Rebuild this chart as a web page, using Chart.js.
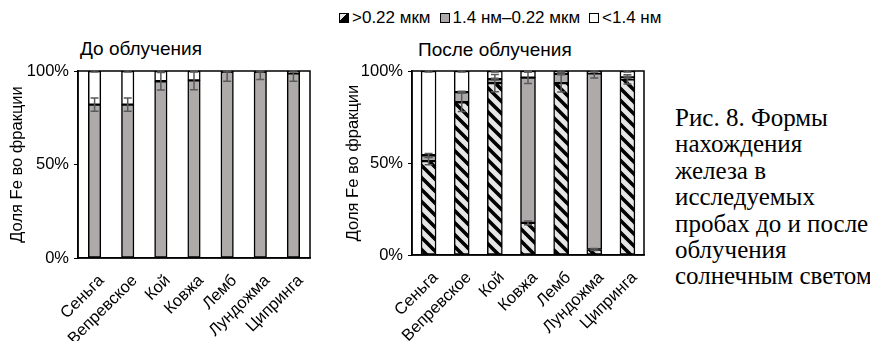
<!DOCTYPE html>
<html>
<head>
<meta charset="utf-8">
<script src="https://cdn.jsdelivr.net/npm/chart.js@4.4.0/dist/chart.umd.min.js"></script>
<style>
  body { margin: 0; width: 870px; height: 341px; background: #fff; position: relative; overflow: hidden;
         font-family: "Liberation Sans", Arial, sans-serif; color: #000; }
  canvas { position: absolute; top: 0; }
  #left { left: 0; }
  #right { left: 340px; }
  .title { position: absolute; font-size: 19px; line-height: 21px; white-space: nowrap; }
  #legend { position: absolute; left: 339px; top: 8px; font-size: 17px; line-height: 19px; white-space: nowrap; display: flex; align-items: center; }
  #legend .sw { display: inline-block; width: 8px; height: 8px; border: 1px solid #000; margin-right: 3px; }
  #legend .item { display: flex; align-items: center; margin-right: 9px; }
  #caption { position: absolute; left: 675px; top: 105px; font-family: "Liberation Serif", "Times New Roman", serif;
             font-size: 25px; line-height: 26.4px; white-space: nowrap; }
</style>
</head>
<body>
<div id="legend">
  <span class="item"><span class="sw" style="background:linear-gradient(135deg,#e7e6e6 0 40%,#000 40% 100%)"></span>&gt;0.22 мкм</span>
  <span class="item"><span class="sw" style="background:#aeaaaa"></span>1.4 нм–0.22 мкм</span>
  <span class="item"><span class="sw" style="background:#fff"></span>&lt;1.4 нм</span>
</div>
<div class="title" style="left:80px;top:38px">До облучения</div>
<div class="title" style="left:418px;top:39px">После облучения</div>
<div id="caption">Рис. 8. Формы<br>нахождения<br>железа в<br>исследуемых<br>пробах до и после<br>облучения<br>солнечным светом</div>
<canvas id="left" width="330" height="341"></canvas>
<canvas id="right" width="320" height="341"></canvas>
<script>
const categories = ['Сеньга', 'Вепревское', 'Кой', 'Ковжа', 'Лемб', 'Лундожма', 'Ципринга'];
const seriesNames = ['>0.22 мкм', '1.4 нм–0.22 мкм', '<1.4 нм'];
const yTicks = [0, 50, 100];

// до облучения, % Fe
const beforeLarge = [0, 0, 0, 0, 0, 0, 0];
const beforeMid = [82, 82, 94.5, 95, 99.5, 99.5, 98.8];
const beforeSmall = [18, 18, 5.5, 5, 0.5, 0.5, 1.2];
const beforeLargeErr = [0, 0, 0, 0, 0, 0, 0];
const beforeMidErr = [3.5, 3.5, 4.7, 5, 5, 4, 4.3];
const beforeSmallErr = [0.5, 0.5, 0.5, 0.5, 0.5, 0.5, 0.5];

// после облучения, % Fe
const afterLarge = [51, 83, 93.4, 17.5, 93.4, 3, 95.5];
const afterMid = [3.2, 5.5, 2.2, 78.9, 5, 95.7, 1];
const afterSmall = [45.8, 11.5, 4.4, 3.6, 1.6, 1.3, 3.5];
const afterLargeErr = [2, 5, 4.7, 1, 4.8, 0.5, 2.5];
const afterMidErr = [1, 0.5, 0.5, 3.2, 0.5, 2.5, 0.5];
const afterSmallErr = [0.5, 0.5, 0.5, 0.5, 0.5, 0.5, 0.5];

const axisFont = { family: '"Liberation Sans", Arial', size: 16.5 };

function hatch() {
  const t = 12;
  const c = document.createElement('canvas');
  c.width = t; c.height = t;
  const g = c.getContext('2d');
  g.fillStyle = '#e7e6e6';
  g.fillRect(0, 0, t, t);
  g.strokeStyle = '#000';
  g.lineWidth = 3.6;
  g.beginPath();
  g.moveTo(-t, -t); g.lineTo(2 * t, 2 * t);
  g.moveTo(-t, 0); g.lineTo(t, 2 * t);
  g.moveTo(0, -t); g.lineTo(2 * t, t);
  g.stroke();
  return g.createPattern(c, 'repeat');
}

const frame = {
  id: 'frame',
  afterDatasetsDraw(chart) {
    const a = chart.chartArea, ctx = chart.ctx;
    ctx.save();
    ctx.strokeStyle = '#000';
    ctx.lineWidth = 1.5;
    ctx.strokeRect(a.left, a.top, a.right - a.left, a.bottom - a.top);
    ctx.restore();
  }
};

const errBars = {
  id: 'errBars',
  afterDraw(chart) {
    const ctx = chart.ctx, a = chart.chartArea, y = chart.scales.y;
    ctx.save();
    ctx.beginPath();
    ctx.rect(a.left, a.top - 1, a.right - a.left, a.bottom - a.top + 1);
    ctx.clip();
    ctx.strokeStyle = '#595959';
    ctx.lineWidth = 1.5;
    const sums = categories.map(() => 0);
    chart.data.datasets.forEach((ds, i) => {
      const meta = chart.getDatasetMeta(i);
      ds.data.forEach((v, j) => {
        sums[j] += v;
        const e = ds.errors[j];
        if (!e) return;
        const x = meta.data[j].x;
        const y1 = y.getPixelForValue(sums[j] + e);
        const y2 = y.getPixelForValue(sums[j] - e);
        ctx.beginPath();
        ctx.moveTo(x, y1); ctx.lineTo(x, y2);
        ctx.moveTo(x - 4, y1); ctx.lineTo(x + 4, y1);
        ctx.moveTo(x - 4, y2); ctx.lineTo(x + 4, y2);
        ctx.stroke();
      });
    });
    ctx.restore();
  }
};

function makeChart(id, values, errors, barW, yWidth, xHeight, padRight, titlePad) {
  const fills = [hatch(), '#aeaaaa', '#ffffff'];
  return new Chart(document.getElementById(id), {
    type: 'bar',
    data: {
      labels: categories,
      datasets: values.map((d, i) => ({
        label: seriesNames[i],
        data: d,
        errors: errors[i],
        backgroundColor: fills[i],
        borderColor: '#000',
        borderWidth: 1.5,
        borderSkipped: false,
        barThickness: barW
      }))
    },
    options: {
      responsive: false,
      animation: false,
      devicePixelRatio: 1,
      layout: { padding: { top: 71, right: padRight, bottom: 0, left: 0 } },
      plugins: { legend: { display: false }, tooltip: { enabled: false } },
      scales: {
        x: {
          stacked: true,
          grid: { display: false, drawTicks: false },
          border: { display: true, color: '#000', width: 1.5 },
          ticks: { autoSkip: false, minRotation: 45, maxRotation: 45, padding: 13, labelOffset: 7,
                   color: '#000', font: axisFont },
          afterFit(s) { s.height = xHeight; }
        },
        y: {
          stacked: true,
          min: 0, max: 100,
          afterBuildTicks(s) { s.ticks = yTicks.map(v => ({ value: v })); },
          grid: { drawOnChartArea: false, drawTicks: true, tickLength: 4, color: '#000', lineWidth: 1 },
          border: { display: true, color: '#000', width: 1.5 },
          ticks: { padding: 5, color: '#000', callback: v => v + '%', font: axisFont },
          title: { display: true, text: 'Доля Fe во фракции', color: '#000', padding: { top: titlePad, bottom: 0 },
                   font: axisFont },
          afterFit(s) { s.width = yWidth; }
        }
      }
    },
    plugins: [frame, errBars]
  });
}

makeChart('left',
  [beforeLarge, beforeMid, beforeSmall],
  [beforeLargeErr, beforeMidErr, beforeSmallErr],
  12.5, 78, 83, 20, 8);

makeChart('right',
  [afterLarge, afterMid, afterSmall],
  [afterLargeErr, afterMidErr, afterSmallErr],
  15, 72, 86, 16, 4);
</script>
</body>
</html>
